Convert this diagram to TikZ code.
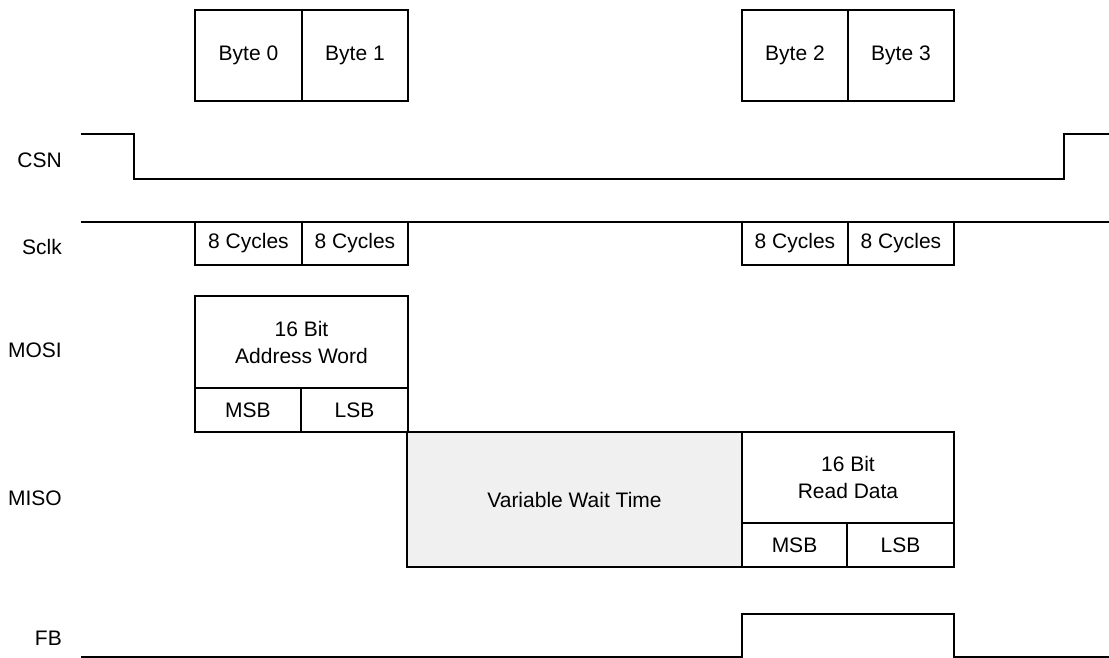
\documentclass[tikz,border=0pt]{standalone}
\usepackage{fontspec}
\setmainfont{Liberation Sans}
\begin{document}
\begin{tikzpicture}[x=1pt,y=-1pt,
  sig/.style={line width=1.6pt, line join=miter},
  box/.style={draw, line width=1.6pt, rectangle, inner sep=0pt, align=center, font=\fontsize{21}{27}\selectfont},
  lbl/.style={anchor=east, inner sep=0pt, font=\fontsize{21}{27}\selectfont},
  waitfill/.style={fill=waitgray}]
\definecolor{waitgray}{HTML}{F0F0F0}
\useasboundingbox (0,0) rectangle (1109,658);
% Byte boxes
\node[box, minimum width=107pt, minimum height=91pt] (b0) at (248.5,55.5) {Byte 0};
\node[box, minimum width=106pt, minimum height=91pt] (b1) at (355,55.5) {Byte 1};
\node[box, minimum width=106pt, minimum height=91pt] (b2) at (795,55.5) {Byte 2};
\node[box, minimum width=106pt, minimum height=91pt] (b3) at (901,55.5) {Byte 3};
% labels
\node[lbl] (lcsn) at (62,160) {CSN};
\node[lbl] (lsclk) at (62,247) {Sclk};
\node[lbl] (lmosi) at (62,350) {MOSI};
\node[lbl] (lmiso) at (62,498) {MISO};
\node[lbl] (lfb) at (62,638) {FB};
% CSN
\coordinate (c0) at (81,134);
\coordinate (c1) at (134,134);
\coordinate (c2) at (134,179);
\coordinate (c3) at (1064,179);
\coordinate (c4) at (1064,134);
\coordinate (c5) at (1109,134);
\draw[sig] (c0) -- (c1) -- (c2) -- (c3) -- (c4) -- (c5);
% Sclk
\coordinate (s0) at (81,222);
\coordinate (s1) at (1109,222);
\draw[sig] (s0) -- (s1);
\node[box, minimum width=107pt, minimum height=43pt] (k0) at (248.5,243.5) {8 Cycles};
\node[box, minimum width=106pt, minimum height=43pt] (k1) at (355,243.5) {8 Cycles};
\node[box, minimum width=106pt, minimum height=43pt] (k2) at (795,243.5) {8 Cycles};
\node[box, minimum width=106pt, minimum height=43pt] (k3) at (901,243.5) {8 Cycles};
% MOSI
\node[box, minimum width=213pt, minimum height=92pt] (addr) at (301.5,342) {16 Bit\\Address Word};
\node[box, minimum width=106pt, minimum height=44pt] (amsb) at (248,410) {MSB};
\node[box, minimum width=107pt, minimum height=44pt] (alsb) at (354.5,410) {LSB};
% MISO
\node[box, waitfill, minimum width=335pt, minimum height=135pt] (wait) at (574.5,499.5) {Variable Wait Time};
\node[box, minimum width=212pt, minimum height=91pt] (rd) at (848,477.5) {16 Bit\\Read Data};
\node[box, minimum width=105pt, minimum height=44pt] (rmsb) at (794.5,545) {MSB};
\node[box, minimum width=107pt, minimum height=44pt] (rlsb) at (900.5,545) {LSB};
% FB
\coordinate (f0) at (81,657);
\coordinate (f1) at (742,657);
\coordinate (f2) at (742,614);
\coordinate (f3) at (954,614);
\coordinate (f4) at (954,657);
\coordinate (f5) at (1109,657);
\draw[sig] (f0) -- (f1) -- (f2) -- (f3) -- (f4) -- (f5);
\end{tikzpicture}
\end{document}
